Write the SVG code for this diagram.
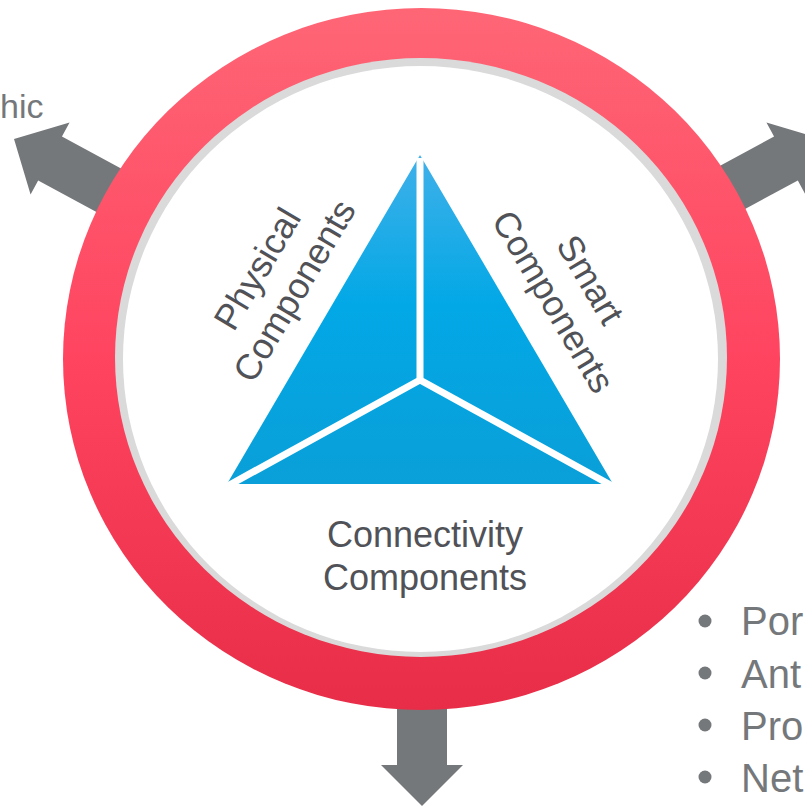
<svg xmlns="http://www.w3.org/2000/svg" width="805" height="806" viewBox="0 0 805 806">
<defs>
<linearGradient id="ring" x1="0" y1="0" x2="0" y2="1">
<stop offset="0" stop-color="#FE6676"/>
<stop offset="0.5" stop-color="#FF4460"/>
<stop offset="1" stop-color="#E72D47"/>
</linearGradient>
<linearGradient id="tri" gradientUnits="userSpaceOnUse" x1="0" y1="155" x2="0" y2="487">
<stop offset="0" stop-color="#40B0E9"/>
<stop offset="0.45" stop-color="#02A8E6"/>
<stop offset="1" stop-color="#0A9FD8"/>
</linearGradient>
<style>
.arrow{fill:#75787B}
.lbl{font-family:"Liberation Sans",Arial,sans-serif;font-size:36px;fill:#505257}
.side{font-family:"Liberation Sans",Arial,sans-serif;font-size:40px;fill:#75787B}
.sep{stroke:#FFFFFF;stroke-width:7;fill:none}
</style>
</defs>
<g id="connectors">
<polygon class="arrow" transform="translate(14,139) rotate(-151.6)" points="0,0 -41,-41 -41,-25 -220,-25 -220,25 -41,25 -41,41"/>
<polygon class="arrow" transform="translate(822,139) rotate(-28.4)" points="0,0 -41,-41 -41,-25 -220,-25 -220,25 -41,25 -41,41"/>
<polygon class="arrow" transform="translate(422,806) rotate(90)" points="0,0 -41,-41 -41,-25 -220,-25 -220,25 -41,25 -41,41"/>
</g>
<g id="ring-node">
<ellipse cx="421.5" cy="359" rx="358.5" ry="351" fill="url(#ring)"/>
<ellipse cx="421" cy="357.5" rx="306" ry="299.5" fill="#DADADA"/>
<ellipse cx="420.5" cy="359" rx="297.5" ry="293" fill="#FFFFFF"/>
</g>
<g id="triangle">
<polygon points="420,155 227,484 613,484" fill="url(#tri)"/>
<line class="sep" x1="420" y1="158" x2="420" y2="380"/>
<line class="sep" x1="420" y1="380" x2="224" y2="488"/>
<line class="sep" x1="420" y1="380" x2="616" y2="488"/>
<line x1="220" y1="488.5" x2="620" y2="488.5" stroke="#FFFFFF" stroke-width="3"/>
</g>
<g id="physical">
<text class="lbl" text-anchor="middle" transform="translate(305,297) rotate(-59.4)"><tspan x="0" y="-43">Physical</tspan><tspan x="0" y="0">Components</tspan></text>
</g>
<g id="smart">
<text class="lbl" text-anchor="middle" transform="translate(542.6,307.8) rotate(59.4)"><tspan x="0" y="-43">Smart</tspan><tspan x="0" y="0">Components</tspan></text>
</g>
<g id="connectivity">
<text class="lbl" text-anchor="middle" x="425" y="547">Connectivity</text>
<text class="lbl" text-anchor="middle" x="425" y="590">Components</text>
</g>
<g id="topleft-label">
<text class="side" style="font-size:34px" x="0" y="118">hic</text>
</g>
<g id="bullets">
<circle cx="705" cy="621" r="6.5" fill="#75787B"/>
<circle cx="705" cy="673" r="6.5" fill="#75787B"/>
<circle cx="705" cy="725" r="6.5" fill="#75787B"/>
<circle cx="705" cy="777" r="6.5" fill="#75787B"/>
<text class="side" x="741" y="635">Por</text>
<text class="side" x="741" y="688">Ant</text>
<text class="side" x="741" y="740">Pro</text>
<text class="side" x="741" y="792">Net</text>
</g>
</svg>
